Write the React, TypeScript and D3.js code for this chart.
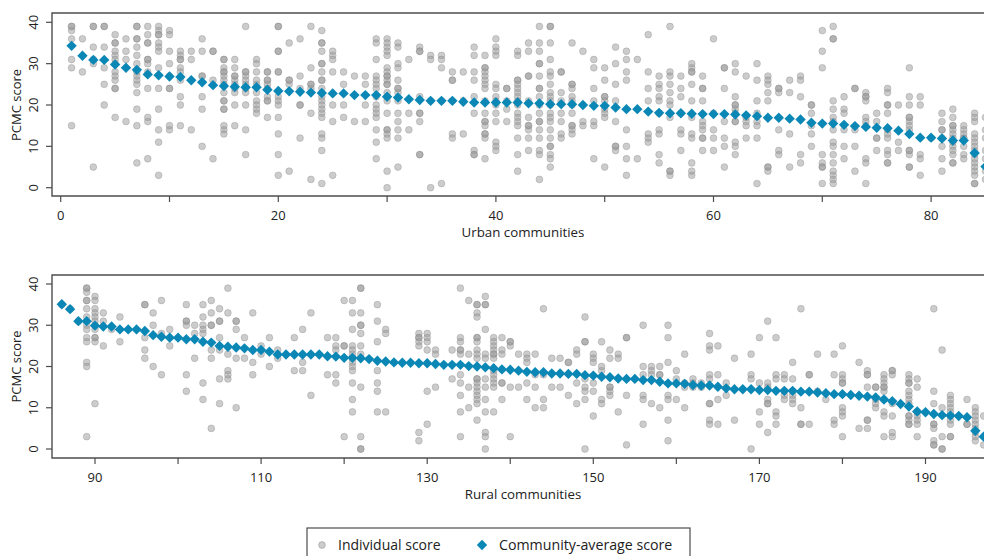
import React from "react";
import * as d3 from "d3";

// community-average PCMC score, urban communities 1..85
const urbanAvg = [
  34.3, 31.9, 30.9, 30.9, 29.8, 29.0, 28.5, 27.4, 27.2, 26.9, 26.8, 26.0, 25.5, 24.8, 24.6, 24.4, 24.3,
  24.3, 23.7, 23.4, 23.3, 23.2, 23.0, 22.9, 22.8, 22.8, 22.4, 22.4, 22.4, 22.0, 21.8, 21.4, 21.2, 21.0,
  21.0, 21.0, 20.8, 20.6, 20.6, 20.6, 20.6, 20.6, 20.4, 20.4, 20.2, 20.2, 20.2, 20.0, 19.8, 19.8, 19.4,
  19.0, 19.0, 18.4, 18.1, 18.0, 18.0, 17.9, 17.8, 17.8, 17.8, 17.7, 17.5, 17.3, 16.9, 16.9, 16.7, 16.5,
  15.7, 15.5, 15.5, 15.2, 14.9, 14.7, 14.5, 14.4, 13.8, 13.0, 12.1, 12.1, 11.9, 11.4, 11.4, 8.4, 5.1,
];

// individual scores per urban community
const urbanScores = [
  [39, 39, 38, 36, 31, 29, 15], [36, 28], [39, 39, 34, 31, 30, 5], [39, 39, 34, 29, 25, 20],
  [37, 35, 35, 33, 32, 31, 30, 28, 27, 26, 24, 24, 17], [36, 33, 31, 16],
  [39, 39, 36, 36, 34, 32, 30, 28, 27, 26, 25, 23, 19, 15, 6], [39, 37, 35, 35, 31, 31, 30, 28, 24, 17, 16, 7],
  [39, 38, 37, 37, 35, 34, 33, 29, 24, 19, 14, 11, 3], [38, 37, 33, 30, 27, 24, 24, 15, 14],
  [33, 32, 31, 31, 29, 28, 26, 22, 20, 15], [33, 31, 14], [36, 33, 27, 27, 22, 19, 10], [33, 33, 26, 7],
  [31, 31, 29, 28, 28, 27, 26, 25, 23, 21, 21, 19, 19, 15, 14, 13], [31, 29, 27, 27, 26, 25, 24, 23, 20, 15],
  [39, 28, 28, 27, 26, 25, 24, 23, 20, 14, 8], [31, 30, 28, 26, 25, 23, 21, 20, 19, 18],
  [28, 28, 26, 26, 25, 24, 22, 21, 21, 17], [39, 39, 33, 33, 28, 28, 22, 21, 20, 17, 13, 8, 3],
  [35, 26, 26, 25, 4], [36, 27, 24, 20, 20, 12], [39, 29, 25, 25, 24, 18, 2],
  [38, 35, 35, 33, 30, 30, 28, 26, 26, 24, 22, 21, 20, 19, 18, 17, 13, 12, 9, 1],
  [33, 32, 31, 28, 20, 16, 3], [28, 25, 20, 17], [27, 16], [27, 25, 20, 16],
  [36, 35, 31, 27, 26, 25, 24, 22, 20, 19, 18, 17, 14, 11, 7],
  [36, 35, 34, 33, 32, 29, 28, 27, 27, 26, 25, 25, 23, 22, 21, 18, 14, 14, 13, 12, 4, 0],
  [35, 34, 30, 29, 26, 24, 24, 23, 21, 18, 16, 14, 12, 5], [31, 18, 14], [34, 33, 33, 22, 18, 18, 16, 8, 8],
  [32, 31, 21, 0], [32, 31, 29, 21, 1], [28, 26, 26, 21, 13, 12], [28, 21, 13], [34, 32, 28, 26, 22, 18, 9, 8, 8],
  [32, 29, 29, 28, 27, 26, 25, 24, 21, 18, 16, 16, 15, 13, 13, 12, 7],
  [36, 34, 33, 32, 25, 24, 22, 21, 20, 18, 16, 11, 10, 9], [24, 24, 21, 19, 16],
  [33, 32, 26, 26, 25, 24, 23, 22, 21, 20, 18, 17, 16, 15, 12, 8, 4], [35, 33, 27, 27, 21, 17, 15, 15, 14, 12, 9],
  [39, 35, 33, 30, 30, 27, 24, 24, 22, 20, 18, 16, 16, 14, 12, 9, 8, 2],
  [39, 39, 35, 31, 28, 27, 25, 23, 22, 21, 20, 18, 17, 16, 14, 12, 10, 10, 8, 7, 5],
  [28, 28, 23, 21, 18, 16, 13, 12], [35, 25, 25, 24, 22, 21, 20, 18, 15, 15, 14, 13], [33, 16, 15],
  [31, 29, 24, 21, 16, 15, 7], [29, 26, 22, 22, 21, 19, 18, 17, 5], [34, 30, 25, 21, 16, 10, 10, 9],
  [33, 31, 28, 26, 14, 10, 7, 3], [31, 7], [37, 28, 24, 21, 13, 12, 11],
  [27, 25, 24, 22, 21, 18, 14, 13, 8, 6], [39, 28, 27, 25, 23, 21, 20, 17, 4, 4, 3], [27, 24, 22, 18, 14, 13, 9],
  [30, 29, 28, 28, 25, 21, 17, 13, 12, 6, 4, 3], [27, 24, 24, 21, 16, 15, 14, 12, 12, 9], [36, 18, 14, 12, 9],
  [29, 29, 24, 16, 12, 10, 5], [30, 28, 22, 20, 20, 19, 18, 16, 16, 11, 10, 8], [27, 17, 16, 15, 12],
  [30, 26, 21, 18, 16, 15, 12, 1], [27, 26, 25, 23, 21, 5, 5, 4], [24, 24, 23, 14, 9, 8], [26, 23, 13, 5],
  [27, 26, 22, 8, 6], [20, 20, 18, 15, 13, 10], [38, 33, 29, 8, 6, 5, 5, 1],
  [39, 36, 36, 21, 19, 17, 16, 14, 11, 10, 8, 6, 4, 3, 2, 1], [22, 19, 18, 14, 10, 7], [24, 24, 14, 10, 4],
  [23, 22, 22, 21, 17, 16, 15, 7, 6, 1], [18, 16, 12, 12, 9], [24, 23, 20, 20, 18, 14, 13, 12, 9, 8, 6, 6],
  [20, 11, 9], [29, 22, 20, 17, 17, 16, 15, 14, 9, 9, 8, 5, 5], [22, 20, 8, 7, 3], [12],
  [18, 16, 14, 14, 12, 10, 7, 4], [19, 17, 15, 15, 14, 13, 12, 11, 10, 9, 8, 6, 6], [15, 14, 13, 12, 12, 10, 8, 7],
  [18, 17, 16, 13, 12, 11, 10, 9, 8, 7, 6, 5, 4, 3, 1, 1], [17, 14, 12, 9, 7, 4, 2],
];

// community-average PCMC score, rural communities 86..197
const ruralAvg = [
  35.1, 33.9, 31.0, 31.0, 29.9, 29.7, 29.7, 29.0, 29.0, 29.0, 28.6, 27.6, 27.2, 27.0, 27.0, 26.6, 26.6,
  26.0, 25.8, 25.0, 24.8, 24.6, 24.4, 24.0, 24.0, 23.6, 22.9, 22.9, 22.9, 22.9, 22.9, 22.9, 22.5, 22.4,
  22.1, 22.1, 22.0, 21.8, 21.4, 21.2, 21.0, 20.9, 20.9, 20.8, 20.8, 20.6, 20.4, 20.4, 20.4, 20.1, 20.0,
  19.8, 19.6, 19.3, 19.2, 19.0, 18.7, 18.6, 18.6, 18.3, 18.3, 18.2, 18.2, 17.9, 17.8, 17.5, 17.4, 17.1,
  17.0, 17.0, 16.7, 16.7, 16.3, 15.9, 15.9, 15.8, 15.5, 15.4, 15.4, 15.1, 14.7, 14.5, 14.5, 14.5, 14.3,
  14.3, 14.1, 14.1, 14.1, 13.9, 13.9, 13.7, 13.5, 13.3, 13.3, 13.1, 12.9, 12.7, 12.5, 12.0, 11.6, 10.9,
  10.3, 9.1, 8.9, 8.5, 8.2, 8.1, 8.0, 7.7, 4.4, 3.0,
];

// individual scores per rural community
const ruralScores = [
  [35], [34], [31], [39, 39, 38, 36, 36, 34, 32, 30, 29, 27, 26, 21, 20, 3],
  [37, 36, 34, 33, 32, 31, 30, 29, 27, 27, 26, 11], [33, 31, 25], [29], [32, 26], [], [],
  [35, 35, 27, 24, 22], [33, 30, 20], [36, 28, 18], [29, 25], [], [35, 31, 31, 30, 18, 14], [30, 28, 22],
  [35, 32, 30, 29, 28, 16, 12], [36, 33, 30, 30, 24, 22, 5], [34, 31, 31, 27, 24, 17, 11],
  [39, 33, 23, 19, 18, 17], [31, 31, 29, 22, 10], [27, 22], [33, 21, 18], [25, 23], [27, 20], [24, 22], [],
  [27, 19], [29, 21, 19], [33, 13], [], [27, 18], [27, 25, 24, 18, 16], [36, 25, 25, 3],
  [36, 33, 29, 25, 24, 23, 22, 21, 20, 19, 16, 12, 9], [39, 39, 33, 30, 30, 28, 25, 23, 15, 3, 0, 0], [],
  [35, 31, 26, 19, 16, 14, 9], [29, 28, 9], [], [], [], [28, 27, 27, 26, 25, 4, 2], [28, 27, 26, 24, 14, 6],
  [24, 23, 15], [], [24, 17], [39, 27, 26, 24, 24, 23, 18, 16, 13, 9, 3], [36, 23, 15, 10],
  [35, 35, 33, 32, 27, 27, 26, 24, 23, 22, 17, 17, 16, 15, 14, 13, 12, 11, 7],
  [37, 35, 35, 29, 23, 22, 17, 15, 12, 9, 4, 3, 0], [27, 26, 25, 24, 23, 23, 22, 19, 18, 17, 16, 15, 9],
  [27, 24, 23, 16, 16, 12], [26, 26, 25, 15, 3], [23, 15], [23, 22, 21, 16, 12], [23, 18, 15, 10],
  [34, 18, 12, 10], [22, 15], [22, 15], [21, 21, 13], [24, 23, 16, 11], [32, 26, 26, 17, 15, 14, 12, 0],
  [23, 22, 21, 16, 14, 8], [26, 20, 19, 12, 11], [24, 22, 15, 15, 14, 13], [23, 22, 9], [27, 27, 13, 1], [],
  [30, 20, 18, 13, 12, 6], [20, 19, 18, 11], [20, 18, 18, 10], [30, 27, 21, 13, 12, 7, 2], [19, 17, 12],
  [23, 16, 15, 10], [17, 16, 15], [16, 15], [28, 25, 24, 18, 17, 11, 11, 7, 6], [25, 18, 12, 6], [16, 13],
  [22, 7], [], [23, 18, 17, 0], [27, 16, 9, 6], [31, 16, 15, 12, 11, 11, 4], [27, 18, 17, 9, 8, 6],
  [18, 17, 14, 13, 12], [21, 17, 14, 13, 12, 11], [34, 10, 6, 6], [18, 18, 6], [23, 14], [12], [23, 18, 7, 6],
  [25, 18, 17, 16, 16, 10, 9, 8, 3], [], [21, 5], [19, 18, 18, 15, 7, 7, 5], [15, 15, 12, 11, 10],
  [18, 17, 16, 15, 15, 14, 12, 9, 8, 3], [19, 19, 18, 11, 8, 4, 3], [],
  [18, 17, 16, 16, 14, 13, 12, 11, 8, 8, 7, 6, 6], [17, 15, 9, 8, 7, 6, 3], [],
  [34, 14, 11, 6, 6, 5, 2, 1, 1], [24, 10, 3, 0, 0], [13, 12, 11, 10, 9, 8, 7, 6, 3, 3], [], [12, 6, 6],
  [10, 9, 8, 7, 6, 5, 4, 3, 2], [8, 1],
];

const urbanStart = 1;
const ruralStart = 86;
const yTicks = [0, 10, 20, 30, 40];
const urbanTicks = [0, 10, 20, 30, 40, 50, 60, 70, 80];
const urbanLabels = [0, 20, 40, 60, 80];
const ruralTicks = [90, 100, 110, 120, 130, 140, 150, 160, 170, 180, 190];
const ruralLabels = [90, 110, 130, 150, 170, 190];

const FONT = "'Open Sans', 'Noto Sans', sans-serif";
const BLUE = "#0b87b6";
const FRAME = "#4d4d4d";
const diamond = d3.symbol(d3.symbolSquare, 54)() as string;

type PanelProps = {
  top: number;
  bottom: number;
  xScale: d3.ScaleLinear<number, number>;
  yScale: d3.ScaleLinear<number, number>;
  start: number;
  avg: number[];
  scores: number[][];
  ticks: number[];
  labels: number[];
  title: string;
};

const Panel = ({ top, bottom, xScale, yScale, start, avg, scores, ticks, labels, title }: PanelProps) => {
  const left = 52;
  const right = 1000;
  const clipId = `clip-${start}`;
  return (
    <g>
      <defs>
        <clipPath id={clipId}>
          <rect x={left} y={top} width={right - left} height={bottom - top} />
        </clipPath>
      </defs>
      <g clipPath={`url(#${clipId})`}>
        {scores.map((arr, i) =>
          arr.map((v, k) => (
            <circle
              key={`${i}-${k}`}
              cx={xScale(start + i)}
              cy={yScale(v)}
              r={3.4}
              fill="#9a9a9a"
              fillOpacity={0.5}
              stroke="#8a8a8a"
              strokeOpacity={0.45}
              strokeWidth={0.8}
            />
          ))
        )}
        {avg.map((v, i) => (
          <path
            key={i}
            d={diamond}
            fill={BLUE}
            transform={`translate(${xScale(start + i)},${yScale(v)}) rotate(45)`}
          />
        ))}
      </g>
      <path d={`M${right},${top}H${left}V${bottom}H${right}`} fill="none" stroke={FRAME} strokeWidth={1.4} />
      {yTicks.map((t) => (
        <g key={t} transform={`translate(${left},${yScale(t)})`}>
          <line x1={0} x2={-6} stroke={FRAME} strokeWidth={1.2} />
          <text
            transform="translate(-14,0) rotate(-90)"
            textAnchor="middle"
            fontSize={13}
            fontFamily={FONT}
            fill="#222"
          >
            {t}
          </text>
        </g>
      ))}
      <text
        transform={`translate(21,${(yScale(0) + yScale(40)) / 2}) rotate(-90)`}
        textAnchor="middle"
        fontSize={13}
        fontFamily={FONT}
        fill="#222"
      >
        PCMC score
      </text>
      {ticks.map((t) => (
        <line key={t} x1={xScale(t)} x2={xScale(t)} y1={bottom} y2={bottom + 6} stroke={FRAME} strokeWidth={1.2} />
      ))}
      {labels.map((t) => (
        <text
          key={t}
          x={xScale(t)}
          y={bottom + 24}
          textAnchor="middle"
          fontSize={13}
          fontFamily={FONT}
          fill="#222"
        >
          {t}
        </text>
      ))}
      <text x={523} y={bottom + 41} textAnchor="middle" fontSize={13.3} fontFamily={FONT} fill="#222">
        {title}
      </text>
    </g>
  );
};

export default function App() {
  const xUrban = d3.scaleLinear().domain([0, 80]).range([60.7, 931.1]);
  const yUrban = d3.scaleLinear().domain([0, 40]).range([187.7, 22.3]);
  const xRural = d3.scaleLinear().domain([90, 190]).range([95, 925.5]);
  const yRural = d3.scaleLinear().domain([0, 40]).range([449, 284]);
  return (
    <svg
      width={984}
      height={556}
      style={{ position: "absolute", left: 0, top: 0, background: "#fff" }}
    >
      <Panel
        top={13}
        bottom={196}
        xScale={xUrban}
        yScale={yUrban}
        start={urbanStart}
        avg={urbanAvg}
        scores={urbanScores}
        ticks={urbanTicks}
        labels={urbanLabels}
        title="Urban communities"
      />
      <Panel
        top={275}
        bottom={458}
        xScale={xRural}
        yScale={yRural}
        start={ruralStart}
        avg={ruralAvg}
        scores={ruralScores}
        ticks={ruralTicks}
        labels={ruralLabels}
        title="Rural communities"
      />
      <rect x={307} y={528} width={383} height={40} fill="#fff" stroke={FRAME} strokeWidth={1.2} />
      <circle cx={322} cy={545} r={3.4} fill="#9a9a9a" fillOpacity={0.5} stroke="#8a8a8a" strokeOpacity={0.45} />
      <text x={338} y={550} fontSize={14} fontFamily={FONT} fill="#222">
        Individual score
      </text>
      <path d={diamond} fill={BLUE} transform="translate(482,545) rotate(45)" />
      <text x={499} y={550} fontSize={14.2} fontFamily={FONT} fill="#222">
        Community-average score
      </text>
    </svg>
  );
}
